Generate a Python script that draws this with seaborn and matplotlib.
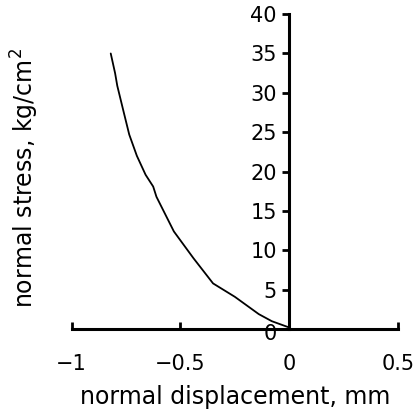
import matplotlib
matplotlib.use("Agg")
import matplotlib.pyplot as plt
import matplotlib.transforms as mtransforms
import seaborn as sns
import pandas as pd

displacement = [-0.82, -0.80, -0.79, -0.76, -0.735, -0.70, -0.66, -0.625, -0.61, -0.53, -0.44, -0.35, -0.25, -0.14, -0.08, 0.0]
stress = [35.0, 32.5, 30.9, 27.5, 24.7, 22.0, 19.6, 18.1, 16.8, 12.4, 9.0, 5.8, 4.1, 1.9, 1.0, 0.2]
x_ticks = [-1, -0.5, 0, 0.5]
x_tick_labels = ["\u22121", "\u22120.5", "0", "0.5"]
y_ticks = [0, 5, 10, 15, 20, 25, 30, 35, 40]

df = pd.DataFrame({"disp": displacement, "stress": stress})

sns.set_theme(style="white")
plt.rcParams['font.family'] = ['DejaVu Sans']
plt.rcParams['text.color'] = 'black'
plt.rcParams['axes.labelcolor'] = 'black'

fig = plt.figure(figsize=(4.16, 4.15), dpi=100)
ax = fig.add_axes([0.172, 0.207, 0.785, 0.759])
sns.lineplot(data=df, x="disp", y="stress", ax=ax, color="black", linewidth=1.3, sort=False)

ax.set_xlim(-1, 0.5)
ax.set_ylim(-0.001, 40)
ax.spines['left'].set_position(('data', 0))
ax.spines['bottom'].set_position(('data', 0))
ax.spines['top'].set_visible(False)
ax.spines['right'].set_visible(False)
for s in ['left', 'bottom']:
    ax.spines[s].set_linewidth(2.2)
    ax.spines[s].set_color('black')

ax.set_xticks(x_ticks)
ax.set_xticklabels(x_tick_labels)
ax.set_yticks(y_ticks)
ax.tick_params(axis='y', left=True, direction='out', length=5, width=2, labelsize=15, pad=4, colors='black')
ax.tick_params(axis='x', bottom=True, direction='in', length=5, width=2, labelsize=15, pad=18, colors='black')
ax.set_xlabel("normal displacement, mm", fontsize=17, labelpad=8, color='black')
ax.set_ylabel("normal stress, kg/cm$^2$", fontsize=17, color='black')
ax.yaxis.set_label_coords(-0.095, 0.48)
ax.grid(False)

fig.canvas.draw()
lbl0 = ax.get_yticklabels()[0]
lbl0.set_transform(lbl0.get_transform() + mtransforms.ScaledTranslation(0, -2 / 72, fig.dpi_scale_trans))
lbl0.set_zorder(5)

fig.savefig("out.png", dpi=100)
